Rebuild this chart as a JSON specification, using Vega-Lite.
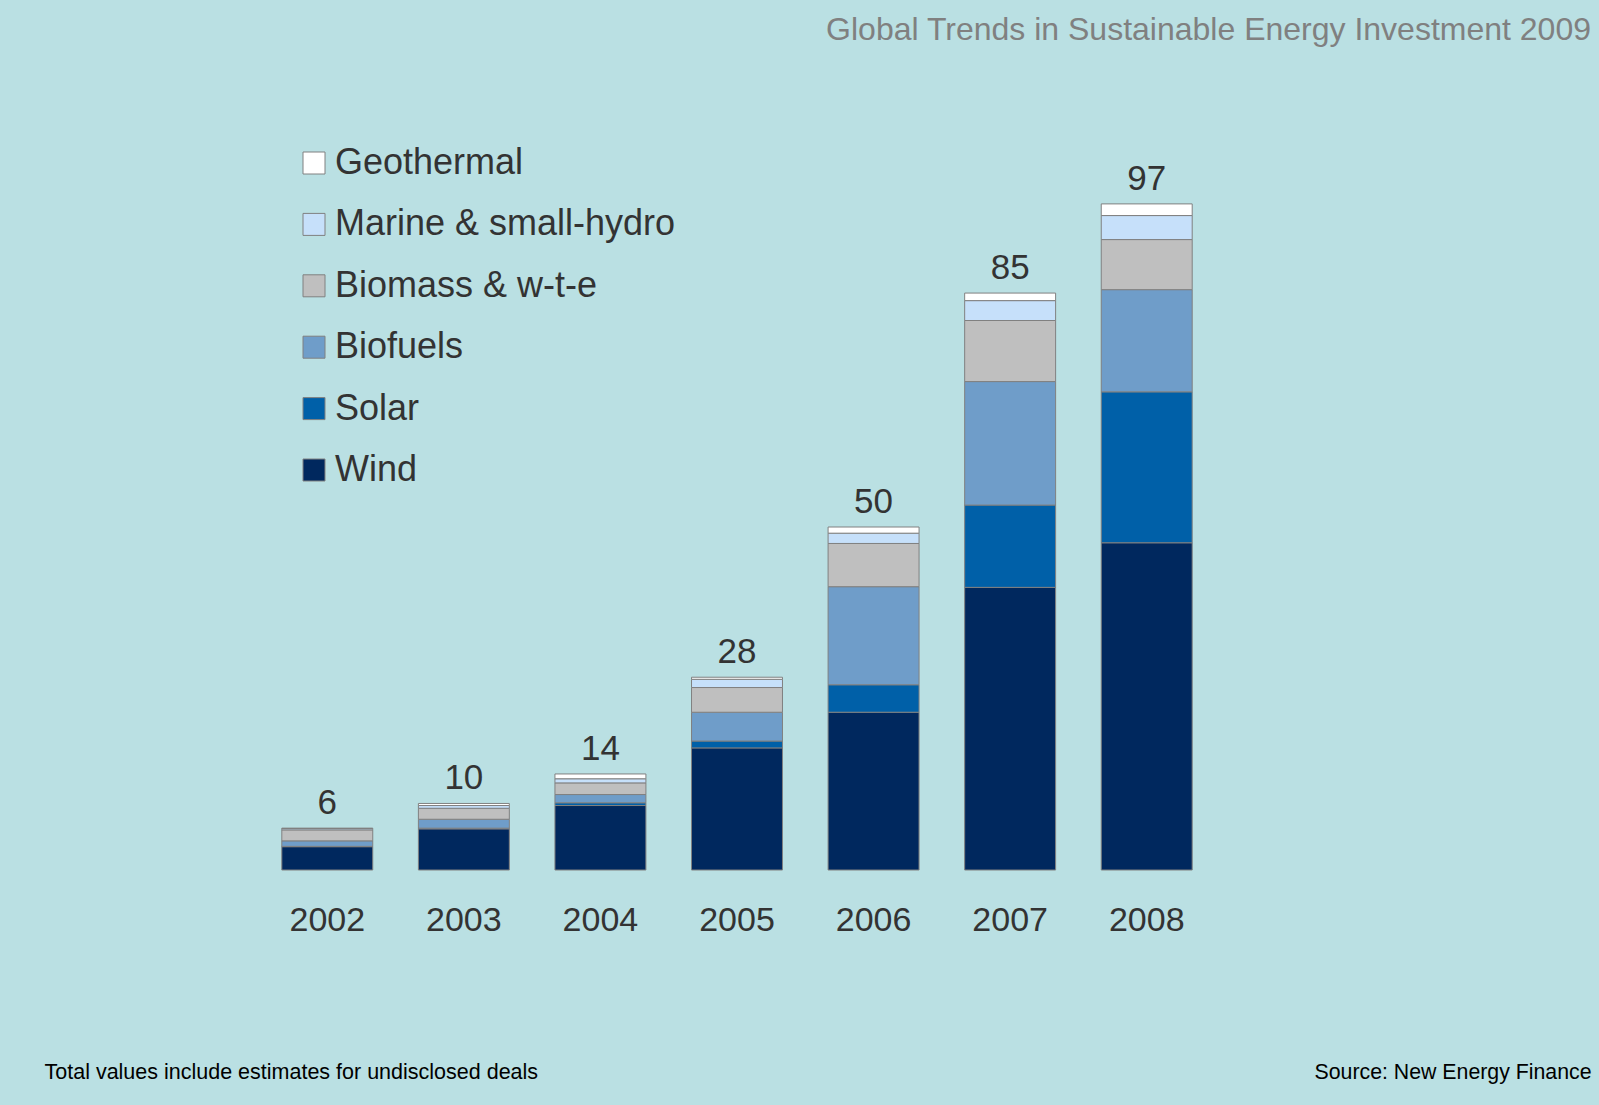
{
  "$schema": "https://vega.github.io/schema/vega-lite/v6.json",
  "autosize": {"type": "none"},
  "padding": {"left": 259, "top": 184, "right": 384, "bottom": 235},
  "width": 956,
  "height": 686,
  "background": "#BAE0E3",
  "config": {
    "font": "Liberation Sans",
    "view": {"stroke": null}
  },
  "title": {
    "text": "Global Trends in Sustainable Energy Investment 2009",
    "anchor": "end",
    "frame": "group",
    "dx": 376,
    "offset": 73,
    "baseline": "alphabetic",
    "fontSize": 32,
    "fontWeight": "normal",
    "color": "#808080",
    "font": "Liberation Sans"
  },
  "data": {
    "values": [
      {"year": "2002", "source": "Wind", "rank": 1, "value": 3.4, "total": 6},
      {"year": "2002", "source": "Solar", "rank": 2, "value": 0.05, "total": 6},
      {"year": "2002", "source": "Biofuels", "rank": 3, "value": 0.8, "total": 6},
      {"year": "2002", "source": "Biomass & w-t-e", "rank": 4, "value": 1.6, "total": 6},
      {"year": "2002", "source": "Marine & small-hydro", "rank": 5, "value": 0.2, "total": 6},
      {"year": "2002", "source": "Geothermal", "rank": 6, "value": 0.05, "total": 6},
      {"year": "2003", "source": "Wind", "rank": 1, "value": 6.0, "total": 10},
      {"year": "2003", "source": "Solar", "rank": 2, "value": 0.1, "total": 10},
      {"year": "2003", "source": "Biofuels", "rank": 3, "value": 1.3, "total": 10},
      {"year": "2003", "source": "Biomass & w-t-e", "rank": 4, "value": 1.6, "total": 10},
      {"year": "2003", "source": "Marine & small-hydro", "rank": 5, "value": 0.4, "total": 10},
      {"year": "2003", "source": "Geothermal", "rank": 6, "value": 0.3, "total": 10},
      {"year": "2004", "source": "Wind", "rank": 1, "value": 9.4, "total": 14},
      {"year": "2004", "source": "Solar", "rank": 2, "value": 0.4, "total": 14},
      {"year": "2004", "source": "Biofuels", "rank": 3, "value": 1.2, "total": 14},
      {"year": "2004", "source": "Biomass & w-t-e", "rank": 4, "value": 1.7, "total": 14},
      {"year": "2004", "source": "Marine & small-hydro", "rank": 5, "value": 0.6, "total": 14},
      {"year": "2004", "source": "Geothermal", "rank": 6, "value": 0.7, "total": 14},
      {"year": "2005", "source": "Wind", "rank": 1, "value": 17.8, "total": 28},
      {"year": "2005", "source": "Solar", "rank": 2, "value": 1.0, "total": 28},
      {"year": "2005", "source": "Biofuels", "rank": 3, "value": 4.2, "total": 28},
      {"year": "2005", "source": "Biomass & w-t-e", "rank": 4, "value": 3.6, "total": 28},
      {"year": "2005", "source": "Marine & small-hydro", "rank": 5, "value": 1.2, "total": 28},
      {"year": "2005", "source": "Geothermal", "rank": 6, "value": 0.3, "total": 28},
      {"year": "2006", "source": "Wind", "rank": 1, "value": 23.0, "total": 50},
      {"year": "2006", "source": "Solar", "rank": 2, "value": 4.0, "total": 50},
      {"year": "2006", "source": "Biofuels", "rank": 3, "value": 14.3, "total": 50},
      {"year": "2006", "source": "Biomass & w-t-e", "rank": 4, "value": 6.3, "total": 50},
      {"year": "2006", "source": "Marine & small-hydro", "rank": 5, "value": 1.5, "total": 50},
      {"year": "2006", "source": "Geothermal", "rank": 6, "value": 0.9, "total": 50},
      {"year": "2007", "source": "Wind", "rank": 1, "value": 41.2, "total": 85},
      {"year": "2007", "source": "Solar", "rank": 2, "value": 12.0, "total": 85},
      {"year": "2007", "source": "Biofuels", "rank": 3, "value": 18.0, "total": 85},
      {"year": "2007", "source": "Biomass & w-t-e", "rank": 4, "value": 8.9, "total": 85},
      {"year": "2007", "source": "Marine & small-hydro", "rank": 5, "value": 2.9, "total": 85},
      {"year": "2007", "source": "Geothermal", "rank": 6, "value": 1.1, "total": 85},
      {"year": "2008", "source": "Wind", "rank": 1, "value": 47.7, "total": 97},
      {"year": "2008", "source": "Solar", "rank": 2, "value": 22.0, "total": 97},
      {"year": "2008", "source": "Biofuels", "rank": 3, "value": 14.9, "total": 97},
      {"year": "2008", "source": "Biomass & w-t-e", "rank": 4, "value": 7.3, "total": 97},
      {"year": "2008", "source": "Marine & small-hydro", "rank": 5, "value": 3.5, "total": 97},
      {"year": "2008", "source": "Geothermal", "rank": 6, "value": 1.7, "total": 97}
    ]
  },
  "layer": [
    {
      "mark": {"type": "bar", "stroke": "#808080", "strokeWidth": 1},
      "encoding": {
        "x": {
          "field": "year",
          "type": "ordinal",
          "scale": {"paddingInner": 0.334, "paddingOuter": 0.167},
          "axis": {
            "title": "Total values include estimates for undisclosed deals",
            "titleX": -215,
            "titleY": 208,
            "titleAlign": "left",
            "titleAnchor": null,
            "titleBaseline": "alphabetic",
            "titleFontSize": 21.5,
            "titleFontWeight": "normal",
            "titleColor": "#000000",
            "labelAngle": 0,
            "labelFontSize": 34,
            "labelColor": "#333333",
            "labelPadding": 33,
            "labelBaseline": "top",
            "domain": false,
            "ticks": false
          }
        },
        "y": {
          "field": "value",
          "type": "quantitative",
          "stack": "zero",
          "scale": {"domain": [0, 100], "nice": false},
          "axis": {
            "orient": "right",
            "title": "Source: New Energy Finance",
            "titleAngle": 0,
            "titleX": 376,
            "titleY": 894,
            "titleAlign": "right",
            "titleAnchor": null,
            "titleBaseline": "alphabetic",
            "titleFontSize": 21.3,
            "titleFontWeight": "normal",
            "titleColor": "#000000",
            "labels": false,
            "ticks": false,
            "domain": false,
            "grid": false
          }
        },
        "color": {
          "field": "source",
          "type": "nominal",
          "scale": {
            "domain": ["Geothermal", "Marine & small-hydro", "Biomass & w-t-e", "Biofuels", "Solar", "Wind"],
            "range": ["#FFFFFF", "#C6E0FA", "#BFBFBF", "#6F9DC9", "#0060A8", "#00285E"]
          },
          "legend": {
            "title": null,
            "orient": "none",
            "legendX": 37,
            "legendY": -39,
            "padding": 0,
            "symbolType": "square",
            "symbolSize": 484,
            "symbolStrokeColor": "#808080",
            "symbolStrokeWidth": 1,
            "symbolOpacity": 1,
            "labelFontSize": 36,
            "labelColor": "#333333",
            "labelOffset": 3,
            "rowPadding": 25.4,
            "labelLimit": 600
          }
        },
        "order": {"field": "rank", "type": "quantitative"}
      }
    },
    {
      "transform": [
        {"aggregate": [{"op": "sum", "field": "value", "as": "top"}], "groupby": ["year", "total"]}
      ],
      "mark": {"type": "text", "baseline": "alphabetic", "dy": -14, "fontSize": 35, "color": "#333333"},
      "encoding": {
        "x": {"field": "year", "type": "ordinal"},
        "y": {"field": "top", "type": "quantitative"},
        "text": {"field": "total", "type": "quantitative"}
      }
    }
  ]
}
